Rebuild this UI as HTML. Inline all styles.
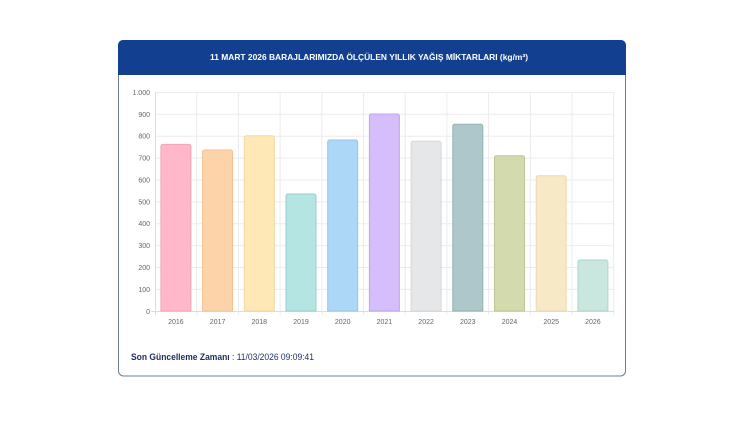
<!DOCTYPE html>
<html>
<head>
<meta charset="utf-8">
<style>
  html,body{margin:0;padding:0;background:#fff;}
  body{width:750px;height:421px;overflow:hidden;}
  svg{display:block;}
</style>
</head>
<body>
<svg width="750" height="421" viewBox="0 0 750 421" xmlns="http://www.w3.org/2000/svg" font-family="'Liberation Sans', sans-serif">
  <!-- card -->
  <rect x="118.5" y="40.5" width="507" height="335.5" rx="5" ry="5" fill="#fff" stroke="#6b7d94" stroke-width="1"/>
  <path d="M118,45 a5,5 0 0 1 5,-5 h498 a5,5 0 0 1 5,5 v30 h-508 z" fill="#123f8f"/>
  <text x="210" y="60" font-size="8.5" font-weight="bold" fill="#ffffff" textLength="318" lengthAdjust="spacingAndGlyphs">11 MART 2026 BARAJLARIMIZDA ÖLÇÜLEN YILLIK YAĞIŞ MİKTARLARI (kg/m³)</text>

  <!-- horizontal grid -->
  <g stroke="#ebebeb" stroke-width="1">
    <line x1="155" y1="92.5" x2="614" y2="92.5"/>
    <line x1="155" y1="114.3" x2="614" y2="114.3"/>
    <line x1="155" y1="136.2" x2="614" y2="136.2"/>
    <line x1="155" y1="158.1" x2="614" y2="158.1"/>
    <line x1="155" y1="180" x2="614" y2="180"/>
    <line x1="155" y1="201.9" x2="614" y2="201.9"/>
    <line x1="155" y1="223.7" x2="614" y2="223.7"/>
    <line x1="155" y1="245.6" x2="614" y2="245.6"/>
    <line x1="155" y1="267.5" x2="614" y2="267.5"/>
    <line x1="155" y1="289.4" x2="614" y2="289.4"/>
  </g>
  <!-- vertical grid -->
  <g stroke="#ebebeb" stroke-width="1">
    <line x1="196.7" y1="92" x2="196.7" y2="315"/>
    <line x1="238.4" y1="92" x2="238.4" y2="315"/>
    <line x1="280.1" y1="92" x2="280.1" y2="315"/>
    <line x1="321.8" y1="92" x2="321.8" y2="315"/>
    <line x1="363.5" y1="92" x2="363.5" y2="315"/>
    <line x1="405.2" y1="92" x2="405.2" y2="315"/>
    <line x1="446.9" y1="92" x2="446.9" y2="315"/>
    <line x1="488.6" y1="92" x2="488.6" y2="315"/>
    <line x1="530.3" y1="92" x2="530.3" y2="315"/>
    <line x1="572" y1="92" x2="572" y2="315"/>
    <line x1="613.7" y1="92" x2="613.7" y2="315"/>
  </g>
  <!-- axes -->
  <line x1="155.5" y1="92" x2="155.5" y2="315" stroke="#dcdcdc"/>
  <line x1="151" y1="311.5" x2="614" y2="311.5" stroke="#dcdcdc"/>

  <!-- y labels -->
  <g font-size="7" fill="#666" text-anchor="end">
    <text x="150" y="95">1.000</text>
    <text x="150" y="116.8">900</text>
    <text x="150" y="138.7">800</text>
    <text x="150" y="160.6">700</text>
    <text x="150" y="182.5">600</text>
    <text x="150" y="204.4">500</text>
    <text x="150" y="226.2">400</text>
    <text x="150" y="248.1">300</text>
    <text x="150" y="270">200</text>
    <text x="150" y="291.9">100</text>
    <text x="150" y="313.8">0</text>
  </g>

  <!-- bars -->
  <g stroke-width="1">
    <path d="M160.9,311 V146.4 a2,2 0 0 1 2,-2 h26 a2,2 0 0 1 2,2 V311 z" fill="#ffb8c9" stroke="#f4a3b6"/>
    <path d="M202.6,311 V152 a2,2 0 0 1 2,-2 h26 a2,2 0 0 1 2,2 V311 z" fill="#fdd3a9" stroke="#f2c092"/>
    <path d="M244.3,311 V137.8 a2,2 0 0 1 2,-2 h26 a2,2 0 0 1 2,2 V311 z" fill="#fee8b6" stroke="#f4d9a0"/>
    <path d="M286,311 V196 a2,2 0 0 1 2,-2 h26 a2,2 0 0 1 2,2 V311 z" fill="#b5e5e3" stroke="#95cfcc"/>
    <path d="M327.7,311 V142 a2,2 0 0 1 2,-2 h26 a2,2 0 0 1 2,2 V311 z" fill="#acd7f6" stroke="#94c6ec"/>
    <path d="M369.4,311 V116 a2,2 0 0 1 2,-2 h26 a2,2 0 0 1 2,2 V311 z" fill="#d5befb" stroke="#bea4f0"/>
    <path d="M411.1,311 V143.3 a2,2 0 0 1 2,-2 h26 a2,2 0 0 1 2,2 V311 z" fill="#e6e7e9" stroke="#d6d7da"/>
    <path d="M452.8,311 V126.3 a2,2 0 0 1 2,-2 h26 a2,2 0 0 1 2,2 V311 z" fill="#adc7cb" stroke="#93b1b5"/>
    <path d="M494.5,311 V157.7 a2,2 0 0 1 2,-2 h26 a2,2 0 0 1 2,2 V311 z" fill="#d3daae" stroke="#bcc593"/>
    <path d="M536.2,311 V177.7 a2,2 0 0 1 2,-2 h26 a2,2 0 0 1 2,2 V311 z" fill="#f7e9c5" stroke="#ecdaae"/>
    <path d="M577.9,311 V262 a2,2 0 0 1 2,-2 h26 a2,2 0 0 1 2,2 V311 z" fill="#c9e7de" stroke="#afd6ca"/>
  </g>

  <!-- x labels -->
  <g font-size="7" fill="#666" text-anchor="middle">
    <text x="175.9" y="324">2016</text>
    <text x="217.6" y="324">2017</text>
    <text x="259.3" y="324">2018</text>
    <text x="301" y="324">2019</text>
    <text x="342.7" y="324">2020</text>
    <text x="384.4" y="324">2021</text>
    <text x="426.1" y="324">2022</text>
    <text x="467.8" y="324">2023</text>
    <text x="509.5" y="324">2024</text>
    <text x="551.2" y="324">2025</text>
    <text x="592.9" y="324">2026</text>
  </g>

  <!-- footer -->
  <text x="131" y="360" font-size="9.5" fill="#1c2c5e" textLength="183" lengthAdjust="spacingAndGlyphs"><tspan font-weight="bold">Son Güncelleme Zamanı</tspan> : 11/03/2026 09:09:41</text>
</svg>
</body>
</html>
